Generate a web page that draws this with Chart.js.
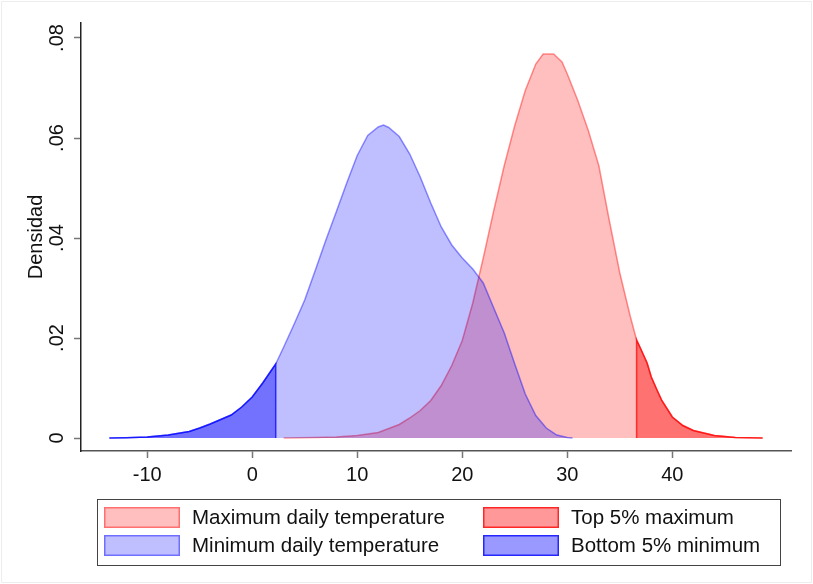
<!DOCTYPE html>
<html><head><meta charset="utf-8">
<script src="https://cdn.jsdelivr.net/npm/chart.js@4.4.0/dist/chart.umd.min.js"></script>
<style>html,body{margin:0;padding:0;background:#fff}#wrap{width:813px;height:584px;position:relative}</style>
</head><body><div id="wrap"><canvas id="c" width="813" height="584"></canvas></div>
<script>
// ---- data ----
const minTempX = [-13.6,-12,-10,-8,-6,-5,-4,-3,-2,-1,0,1,2.24,3,4,5,6,7,8,9,10,11,12,12.5,13,14,15,16,17,18,19,20,21,22,23,24,25,26,27,28,29,30,30.5];
const minTempDensity = [0,0.00005,0.0002,0.0006,0.0013,0.002,0.0028,0.0037,0.0046,0.0062,0.0082,0.011,0.0148,0.0182,0.0228,0.0276,0.0335,0.0395,0.0452,0.051,0.0565,0.0605,0.0622,0.0626,0.0621,0.0603,0.0568,0.0522,0.047,0.0422,0.0386,0.036,0.0338,0.031,0.026,0.021,0.0148,0.0088,0.0045,0.002,0.0006,0.0001,0];
const maxTempX = [3,6,8,10,12,14,15,16,17,18,19,20,21,22,23,24,25,26,27,27.7,28.7,29.5,30,31,32,33,34,35,36,36.6,37,37.6,38,38.5,39,40,41,42,44,46,48.6];
const maxTempDensity = [0,0.0001,0.0002,0.0005,0.0011,0.0027,0.004,0.0055,0.0075,0.0105,0.0145,0.0195,0.027,0.036,0.0455,0.0545,0.0625,0.0695,0.0748,0.0768,0.0768,0.0752,0.0728,0.0675,0.0615,0.0545,0.0435,0.033,0.0243,0.0196,0.0178,0.015,0.0122,0.0098,0.0075,0.0042,0.0025,0.0015,0.0005,0.0001,0];
const bottomCutoff = 2.24;   // bottom 5% of minimum
const topCutoff = 36.6;      // top 5% of maximum
const xTickValues = [-10,0,10,20,30,40];
const yTickValues = [0,0.02,0.04,0.06,0.08];
const yTickLabels = ['0','.02','.04','.06','.08'];
const seriesLabels = ['Maximum daily temperature','Top 5% maximum','Minimum daily temperature','Bottom 5% minimum'];
const yTitle = 'Densidad';

// ---- build datasets from arrays ----
const toPts = (xs, ys) => xs.map((x, i) => ({x: x, y: ys[i]}));
const maxPts = toPts(maxTempX, maxTempDensity);
const minPts = toPts(minTempX, minTempDensity);
const bottomPts = minPts.filter(p => p.x <= bottomCutoff).concat([{x: bottomCutoff, y: 0}]);
const topPts = [{x: topCutoff, y: 0}].concat(maxPts.filter(p => p.x >= topCutoff));

const FONT = "'Liberation Sans', Arial, sans-serif";

const legendPlugin = {
  id: 'boxLegend',
  beforeDraw(chart) {
    const ctx = chart.ctx;
    ctx.save();
    ctx.fillStyle = '#fff';
    ctx.fillRect(0, 0, chart.width, chart.height);
    ctx.strokeStyle = '#ededed';
    ctx.lineWidth = 1;
    ctx.strokeRect(1.5, 1.5, chart.width - 3, chart.height - 3);
    ctx.restore();
  },
  afterDraw(chart) {
    const ctx = chart.ctx;
    ctx.save();
    ctx.strokeStyle = '#444';
    ctx.lineWidth = 1;
    ctx.strokeRect(97.5, 499.5, 683, 66);
    const slots = [[104, 507], [483, 507], [104, 535], [483, 535]];
    slots.forEach((s, i) => {
      const ds = chart.data.datasets[i];
      ctx.fillStyle = ds.backgroundColor;
      ctx.fillRect(s[0], s[1], 76, 21);
      ctx.strokeStyle = ds.borderColor;
      ctx.lineWidth = 1.5;
      ctx.strokeRect(s[0] + 0.75, s[1] + 0.75, 74.5, 19.5);
      ctx.fillStyle = '#111';
      ctx.font = '20.5px ' + FONT;
      ctx.textBaseline = 'middle';
      ctx.textAlign = 'left';
      ctx.fillText(ds.label, s[0] + 88, s[1] + 11);
    });
    ctx.restore();
  }
};

new Chart(document.getElementById('c'), {
  type: 'line',
  data: {
    datasets: [
      {label: seriesLabels[0], data: maxPts, backgroundColor: 'rgba(255,0,0,0.25)', borderColor: 'rgba(255,0,0,0.42)', fill: 'origin', order: 4},
      {label: seriesLabels[1], data: topPts, backgroundColor: 'rgba(255,0,0,0.4)', borderColor: 'rgba(255,0,0,0.75)', fill: 'origin', order: 2},
      {label: seriesLabels[2], data: minPts, backgroundColor: 'rgba(0,0,255,0.25)', borderColor: 'rgba(0,0,255,0.42)', fill: 'origin', order: 3},
      {label: seriesLabels[3], data: bottomPts, backgroundColor: 'rgba(0,0,255,0.4)', borderColor: 'rgba(0,0,255,0.75)', fill: 'origin', order: 1}
    ]
  },
  options: {
    responsive: false,
    animation: false,
    elements: {point: {radius: 0, hoverRadius: 0}, line: {borderWidth: 1.5, tension: 0}},
    plugins: {legend: {display: false}, tooltip: {enabled: false}},
    layout: {padding: {left: 20, right: 22, top: 23, bottom: 93}},
    scales: {
      x: {
        type: 'linear', min: -16.3, max: 51.3,
        afterBuildTicks: s => { s.ticks = xTickValues.map(v => ({value: v})); },
        afterFit: s => { s.height = 40; },
        ticks: {font: {family: FONT, size: 20}, color: '#111', padding: 5, maxRotation: 0, minRotation: 0, callback: v => String(v)},
        grid: {drawOnChartArea: false, drawTicks: true, tickLength: 7, tickColor: '#777', tickWidth: 1.5},
        border: {color: '#555', width: 1.5}
      },
      y: {
        type: 'linear', min: -0.0026, max: 0.083,
        afterBuildTicks: s => { s.ticks = yTickValues.map(v => ({value: v})); },
        afterFit: s => { s.width = 61; },
        ticks: {font: {family: FONT, size: 20}, color: '#111', padding: 3, minRotation: 90, maxRotation: 90, crossAlign: 'center',
          callback: (v) => { const i = yTickValues.indexOf(v); return i >= 0 ? yTickLabels[i] : ''; }},
        grid: {drawOnChartArea: false, drawTicks: true, tickLength: 7, tickColor: '#777', tickWidth: 1.5},
        border: {color: '#222', width: 1.5},
        title: {display: true, text: yTitle, font: {family: FONT, size: 20}, color: '#111', padding: {top: 4, bottom: 4}}
      }
    }
  },
  plugins: [legendPlugin]
});
</script>
</body></html>
